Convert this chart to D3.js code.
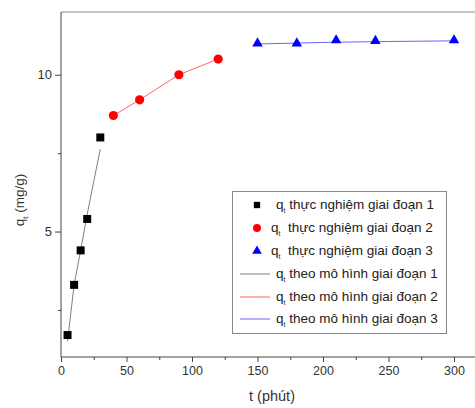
<!DOCTYPE html>
<html>
<head>
<meta charset="utf-8">
<script src="https://cdn.jsdelivr.net/npm/d3@7"></script>
<style>
  body { margin: 0; background: #fff; }
  svg text { font-family: Arial, "Liberation Sans", sans-serif; }
</style>
</head>
<body>
<svg width="475" height="408"></svg>
<script>
// experimental points, one array per stage
const t1 = [5, 10, 15, 20, 30];
const q1 = [1.7, 3.3, 4.4, 5.4, 8.0];
const t2 = [40, 60, 90, 120];
const q2 = [8.7, 9.2, 10.0, 10.5];
const t3 = [150, 180, 210, 240, 300];
const q3 = [11.0, 11.0, 11.1, 11.08, 11.1];

// model curves
const mt1 = [5, 10, 15, 20, 25, 30];
const mq1 = [1.5, 3.3, 4.4, 5.55, 6.6, 7.63];
const mt2 = [40, 60, 90, 120];
const mq2 = [8.7, 9.2, 10.0, 10.5];
const mt3 = [150, 200, 250, 300];
const mq3 = [10.98, 11.03, 11.06, 11.08];

const xMajor = [0, 50, 100, 150, 200, 250, 300];
const xMinor = [25, 75, 125, 175, 225, 275];
const yMajor = [5, 10];
const yMinor = [2.5, 7.5];

const legendLabels = [
  " thực nghiệm giai đoạn 1",
  "  thực nghiệm giai đoạn 2",
  "  thực nghiệm giai đoạn 3",
  " theo mô hình giai đoạn 1",
  " theo mô hình giai đoạn 2",
  " theo mô hình giai đoạn 3"
];

const svg = d3.select("svg");
const mLeft = 61, mTop = 12, mBottom = 357;

const x = d3.scaleLinear().domain([0, 320]).range([mLeft, mLeft + 320 * 1.31]);
const y = d3.scaleLinear().domain([1, 12]).range([mBottom, mTop]);

const axisColor = "#444";
const textColor = "#333";

// frame top line
svg.append("line")
  .attr("x1", mLeft).attr("x2", 475)
  .attr("y1", mTop).attr("y2", mTop)
  .attr("stroke", "#888").attr("stroke-width", 1);

// x axis
const gx = svg.append("g").attr("transform", `translate(0,${mBottom})`);
gx.call(d3.axisBottom(x).tickValues(xMajor).tickSize(5).tickPadding(4).tickFormat(d3.format("d")));
gx.append("g").call(d3.axisBottom(x).tickValues(xMinor).tickSize(3).tickFormat(""));
gx.selectAll("g g .domain").remove();
gx.selectAll(".domain").attr("stroke", axisColor).attr("d", `M${mLeft},0H475`);
gx.selectAll("line").attr("stroke", axisColor);
gx.selectAll("text").attr("fill", textColor).attr("font-size", 12.5);

// y axis
const gy = svg.append("g").attr("transform", `translate(${mLeft},0)`);
gy.call(d3.axisLeft(y).tickValues(yMajor).tickSize(6).tickPadding(3).tickFormat(d3.format("d")));
gy.append("g").call(d3.axisLeft(y).tickValues(yMinor).tickSize(3).tickFormat(""));
gy.selectAll("g g .domain").remove();
gy.selectAll(".domain").attr("stroke", axisColor).attr("d", `M0,${mTop}V${mBottom}`);
gy.selectAll("line").attr("stroke", axisColor);
gy.selectAll("text").attr("fill", textColor).attr("font-size", 13);

// axis titles
svg.append("text")
  .attr("x", 272).attr("y", 401)
  .attr("text-anchor", "middle")
  .attr("font-size", 14.5).attr("fill", textColor)
  .text("t (phút)");

const yl = svg.append("text")
  .attr("transform", "translate(24,200) rotate(-90)")
  .attr("text-anchor", "middle")
  .attr("font-size", 13.5).attr("fill", textColor);
yl.append("tspan").text("q");
yl.append("tspan").attr("font-size", 8).attr("dy", 4).text("t");
yl.append("tspan").attr("dy", -4).text(" (mg/g)");

// model lines
const line = d3.line().x(d => x(d[0])).y(d => y(d[1]));
const models = [
  { t: mt1, q: mq1, color: "#808080" },
  { t: mt2, q: mq2, color: "#ff6464" },
  { t: mt3, q: mq3, color: "#6464ff" }
];
models.forEach(m => {
  svg.append("path")
    .datum(d3.zip(m.t, m.q))
    .attr("fill", "none")
    .attr("stroke", m.color)
    .attr("stroke-width", 1)
    .attr("d", line);
});

// symbols
const sq = d3.symbol().type(d3.symbolSquare).size(64);
const ci = d3.symbol().type(d3.symbolCircle).size(66);
const tri = d3.symbol().type(d3.symbolTriangle).size(48);

svg.append("g").selectAll("path")
  .data(d3.zip(t1, q1)).join("path")
  .attr("transform", d => `translate(${x(d[0])},${y(d[1])})`)
  .attr("d", sq).attr("fill", "#000");

svg.append("g").selectAll("path")
  .data(d3.zip(t2, q2)).join("path")
  .attr("transform", d => `translate(${x(d[0])},${y(d[1])})`)
  .attr("d", ci).attr("fill", "#ff0000");

svg.append("g").selectAll("path")
  .data(d3.zip(t3, q3)).join("path")
  .attr("transform", d => `translate(${x(d[0])},${y(d[1])})`)
  .attr("d", tri).attr("fill", "#0000ff");

// legend
const lg = svg.append("g");
lg.append("rect")
  .attr("x", 232.5).attr("y", 191.5)
  .attr("width", 214).attr("height", 142)
  .attr("fill", "#fff").attr("stroke", "#888");

const rowY = [205, 228, 251, 274, 297, 319];
const textX = [276, 271, 271, 276, 276, 276];
const legendMarks = [
  { sym: d3.symbol().type(d3.symbolSquare).size(40), color: "#000" },
  { sym: d3.symbol().type(d3.symbolCircle).size(50), color: "#ff0000" },
  { sym: d3.symbol().type(d3.symbolTriangle).size(40), color: "#0000ff" }
];
legendLabels.forEach((lab, i) => {
  if (i < 3) {
    lg.append("path")
      .attr("transform", `translate(257,${rowY[i]})`)
      .attr("d", legendMarks[i].sym)
      .attr("fill", legendMarks[i].color);
  } else {
    lg.append("line")
      .attr("x1", 240).attr("x2", 270)
      .attr("y1", rowY[i]).attr("y2", rowY[i])
      .attr("stroke", models[i - 3].color);
  }
  const tx = lg.append("text")
    .attr("x", textX[i]).attr("y", rowY[i] + 4)
    .attr("font-size", 13.5).attr("fill", "#222")
    .attr("xml:space", "preserve");
  tx.append("tspan").text("q");
  tx.append("tspan").attr("font-size", 7).attr("dy", 4).text("t");
  tx.append("tspan").attr("dy", -4).text(lab);
});
</script>
</body>
</html>
